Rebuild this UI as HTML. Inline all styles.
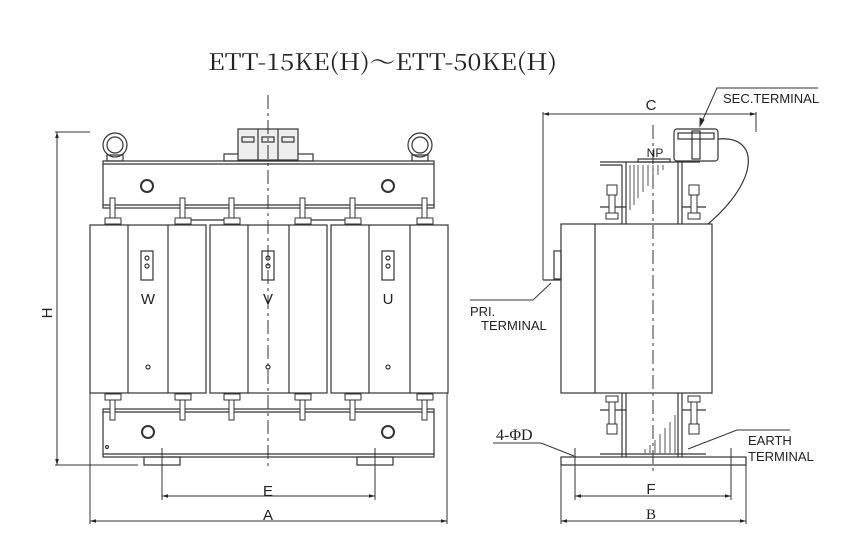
<!DOCTYPE html>
<html><head><meta charset="utf-8"><style>
html,body{margin:0;padding:0;background:#fff;}
svg{display:block;}
text{font-family:"Liberation Sans",sans-serif;fill:#222;}
</style></head><body>
<svg width="863" height="559" viewBox="0 0 863 559" xmlns="http://www.w3.org/2000/svg">
<defs>
<marker id="ar" viewBox="0 0 10 10" refX="10" refY="5" markerWidth="10" markerHeight="6" orient="auto-start-reverse" markerUnits="userSpaceOnUse"><path d="M0,2 L10,5 L0,8 z" fill="#222"/></marker>
</defs>
<rect width="863" height="559" fill="#fff"/>
<text x="208" y="70" font-size="23" textLength="349" lengthAdjust="spacingAndGlyphs" style="font-family:'Noto Serif CJK SC','Liberation Serif',serif">ETT-15KE(H)～ETT-50KE(H)</text>

<g stroke="#333" stroke-width="1.2" fill="none">
<circle cx="115" cy="145" r="12"/><circle cx="115" cy="145" r="8"/>
<rect x="107" y="155" width="16" height="6"/>
<circle cx="420" cy="145" r="12"/><circle cx="420" cy="145" r="8"/>
<rect x="412" y="155" width="16" height="6"/>
<rect x="224" y="154" width="89" height="7"/>
<rect x="238" y="129" width="60" height="31" fill="#eee"/>
<line x1="258" y1="129" x2="258" y2="160"/><line x1="278" y1="129" x2="278" y2="160"/>
<rect x="242" y="137" width="12" height="5"/><rect x="262" y="137" width="12" height="5"/><rect x="282" y="137" width="12" height="5"/>
<rect x="103" y="161" width="331" height="47"/>
<line x1="103" y1="164" x2="434" y2="164"/><line x1="103" y1="205" x2="434" y2="205"/>
<circle cx="147" cy="186" r="6" stroke-width="2"/><circle cx="388" cy="186" r="6" stroke-width="2"/>
<rect x="90" y="225" width="116" height="168"/>
<line x1="128" y1="225" x2="128" y2="393"/><line x1="168" y1="225" x2="168" y2="393"/>
<rect x="210" y="225" width="117" height="168"/>
<line x1="248" y1="225" x2="248" y2="393"/><line x1="289" y1="225" x2="289" y2="393"/>
<rect x="331" y="225" width="117" height="168"/>
<line x1="369" y1="225" x2="369" y2="393"/><line x1="410" y1="225" x2="410" y2="393"/>
<line x1="183" y1="220" x2="232" y2="220"/><line x1="303" y1="220" x2="353" y2="220"/>
<rect x="141" y="251" width="12" height="29"/><circle cx="147" cy="258" r="2"/><circle cx="147" cy="266" r="2"/>
<rect x="262" y="251" width="12" height="29"/><circle cx="268" cy="258" r="2"/><circle cx="268" cy="266" r="2"/>
<rect x="382" y="251" width="12" height="29"/><circle cx="388" cy="258" r="2"/><circle cx="388" cy="266" r="2"/>
<circle cx="148" cy="367" r="2"/><circle cx="268" cy="367" r="2"/><circle cx="388" cy="367" r="2"/>
<rect x="103" y="409" width="331" height="48"/>
<line x1="103" y1="412" x2="434" y2="412"/><line x1="103" y1="454" x2="434" y2="454"/>
<circle cx="148" cy="432" r="6" stroke-width="2"/><circle cx="388" cy="432" r="6" stroke-width="2"/>
<circle cx="107" cy="447" r="1.5"/>
<rect x="144" y="457" width="36" height="8"/><rect x="357" y="457" width="36" height="8"/>
</g>
<g stroke="#333" stroke-width="1" fill="#fff">
<g id="bt">
<rect x="110" y="198" width="5" height="20"/><rect x="105" y="218" width="16" height="6"/>
</g>
<use href="#bt" x="70"/><use href="#bt" x="119"/><use href="#bt" x="190"/><use href="#bt" x="240"/><use href="#bt" x="312"/>
<g id="bb">
<rect x="110" y="400" width="5" height="20"/><rect x="105" y="394" width="16" height="6"/>
</g>
<use href="#bb" x="70"/><use href="#bb" x="119"/><use href="#bb" x="190"/><use href="#bb" x="240"/><use href="#bb" x="312"/>
</g>
<g stroke="#333" stroke-width="1" fill="none">
<line x1="268" y1="95" x2="268" y2="470" stroke-dasharray="14,4,3,4"/>
<line x1="55" y1="132" x2="90" y2="132"/><line x1="55" y1="465" x2="138" y2="465"/>
<line x1="57" y1="132" x2="57" y2="465" marker-start="url(#ar)" marker-end="url(#ar)"/>
<line x1="162" y1="448" x2="162" y2="500"/><line x1="375" y1="448" x2="375" y2="500"/>
<line x1="162" y1="496" x2="375" y2="496" marker-start="url(#ar)" marker-end="url(#ar)"/>
<line x1="90" y1="393" x2="90" y2="524"/><line x1="447" y1="393" x2="447" y2="524"/>
<line x1="90" y1="521" x2="447" y2="521" marker-start="url(#ar)" marker-end="url(#ar)"/>
</g>
<text x="268" y="496" font-size="15" text-anchor="middle">E</text>
<text x="268" y="520" font-size="15" text-anchor="middle">A</text>
<text x="148" y="304" font-size="15" text-anchor="middle">W</text>
<text x="268" y="304" font-size="15" text-anchor="middle">V</text>
<text x="388" y="304" font-size="15" text-anchor="middle">U</text>
<text x="0" y="0" font-size="15" text-anchor="middle" transform="translate(52,313) rotate(-90)">H</text>

<g stroke="#333" stroke-width="1.2" fill="none">
<rect x="561" y="224" width="151" height="169"/>
<line x1="595" y1="224" x2="595" y2="393"/>
<line x1="600" y1="162" x2="626" y2="162"/><line x1="600" y1="165" x2="622" y2="165"/>
<line x1="622" y1="165" x2="622" y2="224"/><line x1="626" y1="162" x2="626" y2="224"/>
<line x1="678" y1="162" x2="678" y2="224"/><line x1="682" y1="162" x2="682" y2="224"/>
<rect x="638" y="159" width="32" height="3"/>
<line x1="626" y1="162" x2="700" y2="162"/>
<line x1="600" y1="207" x2="626" y2="207"/><line x1="682" y1="207" x2="706" y2="207"/>
<line x1="622" y1="393" x2="622" y2="457"/><line x1="626" y1="393" x2="626" y2="457"/>
<line x1="678" y1="393" x2="678" y2="457"/><line x1="682" y1="393" x2="682" y2="457"/>
<line x1="600" y1="410" x2="626" y2="410"/><line x1="682" y1="410" x2="706" y2="410"/>
<line x1="600" y1="454" x2="706" y2="454"/>
<rect x="561" y="457" width="185" height="8"/>
<rect x="674" y="129" width="44" height="32" rx="3"/>
<rect x="678" y="133" width="36" height="6"/>
<rect x="692" y="131" width="8" height="28"/>
<path d="M718,139 C760,135 760,180 708,224"/>
<rect x="554" y="251" width="7" height="28"/>
<line x1="543" y1="280" x2="561" y2="280"/>
</g>
<g stroke="#333" stroke-width="1" fill="#fff">
<rect x="607" y="185" width="10" height="10"/><rect x="609" y="195" width="6" height="20"/><rect x="606" y="213" width="12" height="6"/>
<rect x="689" y="185" width="10" height="10"/><rect x="691" y="195" width="6" height="20"/><rect x="688" y="213" width="12" height="6"/>
<rect x="606" y="396" width="12" height="6"/><rect x="609" y="402" width="6" height="22"/><rect x="607" y="424" width="10" height="10"/>
<rect x="688" y="396" width="12" height="6"/><rect x="691" y="402" width="6" height="22"/><rect x="689" y="424" width="10" height="10"/>
</g>
<g stroke="#555" stroke-width="1">
<line x1="630" y1="165" x2="630" y2="210"/><line x1="634" y1="165" x2="634" y2="205"/><line x1="638" y1="165" x2="638" y2="198"/><line x1="643" y1="165" x2="643" y2="192"/><line x1="648" y1="165" x2="648" y2="186"/><line x1="653" y1="165" x2="653" y2="180"/><line x1="658" y1="165" x2="658" y2="175"/><line x1="663" y1="165" x2="663" y2="170"/>
<line x1="675" y1="453" x2="675" y2="415"/><line x1="670" y1="453" x2="670" y2="422"/><line x1="665" y1="453" x2="665" y2="428"/><line x1="660" y1="453" x2="660" y2="434"/><line x1="655" y1="453" x2="655" y2="440"/><line x1="650" y1="453" x2="650" y2="445"/><line x1="645" y1="453" x2="645" y2="449"/>
</g>
<g stroke="#333" stroke-width="1" fill="none">
<line x1="653" y1="125" x2="653" y2="475" stroke-dasharray="14,4,3,4"/>
<line x1="543" y1="112" x2="543" y2="280"/><line x1="756" y1="112" x2="756" y2="132"/>
<line x1="543" y1="114" x2="756" y2="114" marker-start="url(#ar)" marker-end="url(#ar)"/>
<polyline points="818,88 717,88 700,126" /><path d="M700,126 l0,-8 l4,2 z" fill="#222"/>
<polyline points="470,300 533,300 551,283"/>
<polyline points="493,443 541,443 574,456"/>
<polyline points="790,430 737,430 688,449"/>
<line x1="575" y1="448" x2="575" y2="500"/><line x1="731" y1="448" x2="731" y2="500"/>
<line x1="575" y1="496" x2="731" y2="496" marker-start="url(#ar)" marker-end="url(#ar)"/>
<line x1="561" y1="465" x2="561" y2="524"/><line x1="746" y1="465" x2="746" y2="524"/>
<line x1="561" y1="521" x2="746" y2="521" marker-start="url(#ar)" marker-end="url(#ar)"/>
</g>
<text x="651" y="110" font-size="15" text-anchor="middle">C</text>
<text x="655" y="157" font-size="12" text-anchor="middle">NP</text>
<text x="723" y="103" font-size="13">SEC.TERMINAL</text>
<text x="470" y="316" font-size="13">PRI.</text>
<text x="481" y="330" font-size="13">TERMINAL</text>
<text x="496" y="440" font-size="16" style="font-family:'Liberation Serif',serif">4-ΦD</text>
<text x="748" y="445" font-size="13">EARTH</text>
<text x="748" y="461" font-size="13">TERMINAL</text>
<text x="651" y="494" font-size="15" text-anchor="middle">F</text>
<text x="651" y="519" font-size="15" text-anchor="middle" style="font-family:'Liberation Serif',serif">B</text>
</svg>
</body></html>
